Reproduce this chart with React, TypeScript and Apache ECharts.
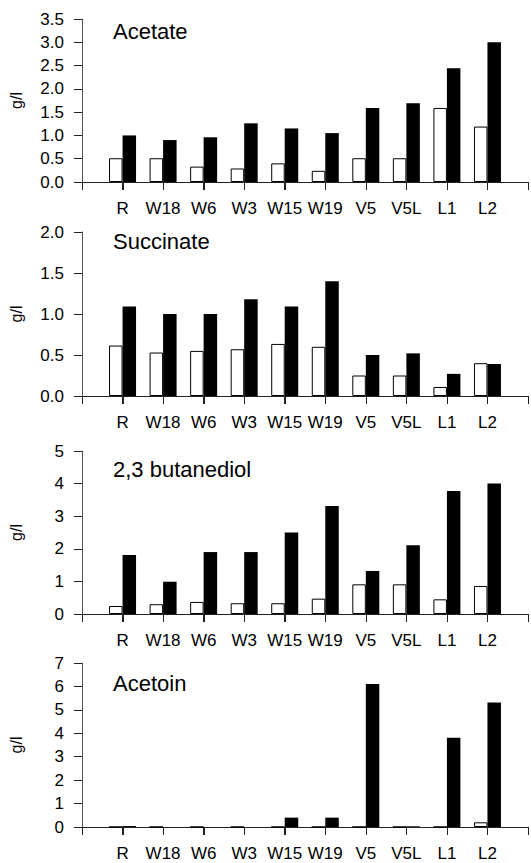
import React, { useEffect, useRef } from "react";
import * as echarts from "echarts";

const categories = ["R", "W18", "W6", "W3", "W15", "W19", "V5", "V5L", "L1", "L2"];

const acetateWhite = [0.51, 0.51, 0.33, 0.29, 0.4, 0.24, 0.51, 0.51, 1.59, 1.19];
const acetateBlack = [1.0, 0.9, 0.96, 1.26, 1.15, 1.05, 1.59, 1.69, 2.44, 3.0];

const succinateWhite = [0.615, 0.53, 0.55, 0.57, 0.635, 0.6, 0.25, 0.25, 0.11, 0.4];
const succinateBlack = [1.09, 1.0, 1.0, 1.18, 1.09, 1.4, 0.5, 0.52, 0.27, 0.39];

const butanediolWhite = [0.245, 0.3, 0.37, 0.33, 0.33, 0.47, 0.91, 0.91, 0.45, 0.86];
const butanediolBlack = [1.81, 0.99, 1.9, 1.9, 2.5, 3.31, 1.32, 2.11, 3.77, 4.0];

const acetoinWhite = [0, 0, 0, 0, 0, 0, 0, 0, 0, 0.2];
const acetoinBlack = [0.04, 0, 0, 0, 0.4, 0.4, 6.1, 0.03, 3.81, 5.31];

const panelTitles = ["Acetate", "Succinate", "2,3 butanediol", "Acetoin"];
const yMaxes = [3.5, 2.0, 5, 7];
const yIntervals = [0.5, 0.5, 1, 1];
const yDecimals = [1, 1, 0, 0];

const whiteSeries = [acetateWhite, succinateWhite, butanediolWhite, acetoinWhite];
const blackSeries = [acetateBlack, succinateBlack, butanediolBlack, acetoinBlack];

const FONT = "Liberation Sans, Arial, Helvetica, sans-serif";

export default function App() {
  const ref = useRef<HTMLDivElement>(null);
  useEffect(() => {
    if (!ref.current) return;
    const chart = echarts.init(ref.current, undefined, { renderer: "svg" });
    const tops = [19, 232, 451, 663];
    const heights = [163, 164, 163, 164];
    const titleY = [31, 241, 469, 683];
    // leading and trailing empty slots around the categories
    const axisCats = ["", ...categories, ""];
    const tickIdx = axisCats.slice(0, categories.length + 1).map((_, i) => i);

    const grids = tops.map((t, i) => ({ left: 80, top: t, width: 451, height: heights[i] }));
    const xAxes = tops.map((_, i) => ({
      type: "category",
      gridIndex: i,
      data: axisCats,
      boundaryGap: false,
      splitLine: { show: false },
      axisLine: { show: true, onZero: false, lineStyle: { color: "#222", width: 1 } },
      axisTick: { show: true, interval: 0, length: 8, lineStyle: { color: "#222", width: 1 } },
      axisLabel: {
        show: true,
        interval: 0,
        margin: 18,
        fontSize: 17,
        fontFamily: FONT,
        color: "#000",
      },
    }));
    const yAxes = tops.map((_, i) => ({
      type: "value",
      gridIndex: i,
      min: 0,
      max: yMaxes[i],
      interval: yIntervals[i],
      name: "g/l",
      nameLocation: "middle",
      nameGap: 58,
      nameTextStyle: { fontSize: 16, fontFamily: FONT, color: "#000" },
      splitLine: { show: false },
      axisLine: { show: true, lineStyle: { color: "#555", width: 1 } },
      axisTick: { show: true, length: 8, lineStyle: { color: "#222" } },
      axisLabel: {
        margin: 18,
        fontSize: 17,
        fontFamily: FONT,
        color: "#000",
        formatter: (v: number) => v.toFixed(yDecimals[i]),
      },
    }));

    const series: any[] = [];
    tops.forEach((_, i) => {
      series.push({
        type: "bar",
        name: "white" + i,
        xAxisIndex: i,
        yAxisIndex: i,
        barWidth: 13.5,
        barGap: "0%",
        itemStyle: { color: "#fff", borderColor: "#000", borderWidth: 1 },
        data: whiteSeries[i].map((v, j) => [j + 1, v]),
      });
      series.push({
        type: "bar",
        name: "black" + i,
        xAxisIndex: i,
        yAxisIndex: i,
        barWidth: 13.5,
        barGap: "0%",
        itemStyle: { color: "#000" },
        data: blackSeries[i].map((v, j) => [j + 1, v]),
      });
      series.push({
        type: "custom",
        name: "ticks" + i,
        xAxisIndex: i,
        yAxisIndex: i,
        silent: true,
        clip: false,
        data: tickIdx.map((k) => [k, 0]),
        renderItem: (_p: any, api: any) => {
          const pt = api.coord([api.value(0), 0]);
          const x = Math.round(pt[0]) + 0.5;
          const y = Math.round(pt[1]);
          return {
            type: "line",
            shape: { x1: x, y1: y, x2: x, y2: y + 8 },
            style: { stroke: "#222", lineWidth: 1 },
          };
        },
      });
    });

    const graphic = panelTitles.map((t, i) => ({
      type: "text",
      x: 113,
      y: titleY[i],
      style: {
        text: t,
        font: `22px ${FONT}`,
        fill: "#000",
        verticalAlign: "middle",
      },
    }));

    chart.setOption({
      animation: false,
      backgroundColor: "#fff",
      grid: grids,
      xAxis: xAxes,
      yAxis: yAxes,
      series,
      graphic,
    } as any);
    return () => chart.dispose();
  }, []);
  return (
    <div
      ref={ref}
      style={{ position: "fixed", left: 0, top: 0, width: 531, height: 863, background: "#fff" }}
    />
  );
}
